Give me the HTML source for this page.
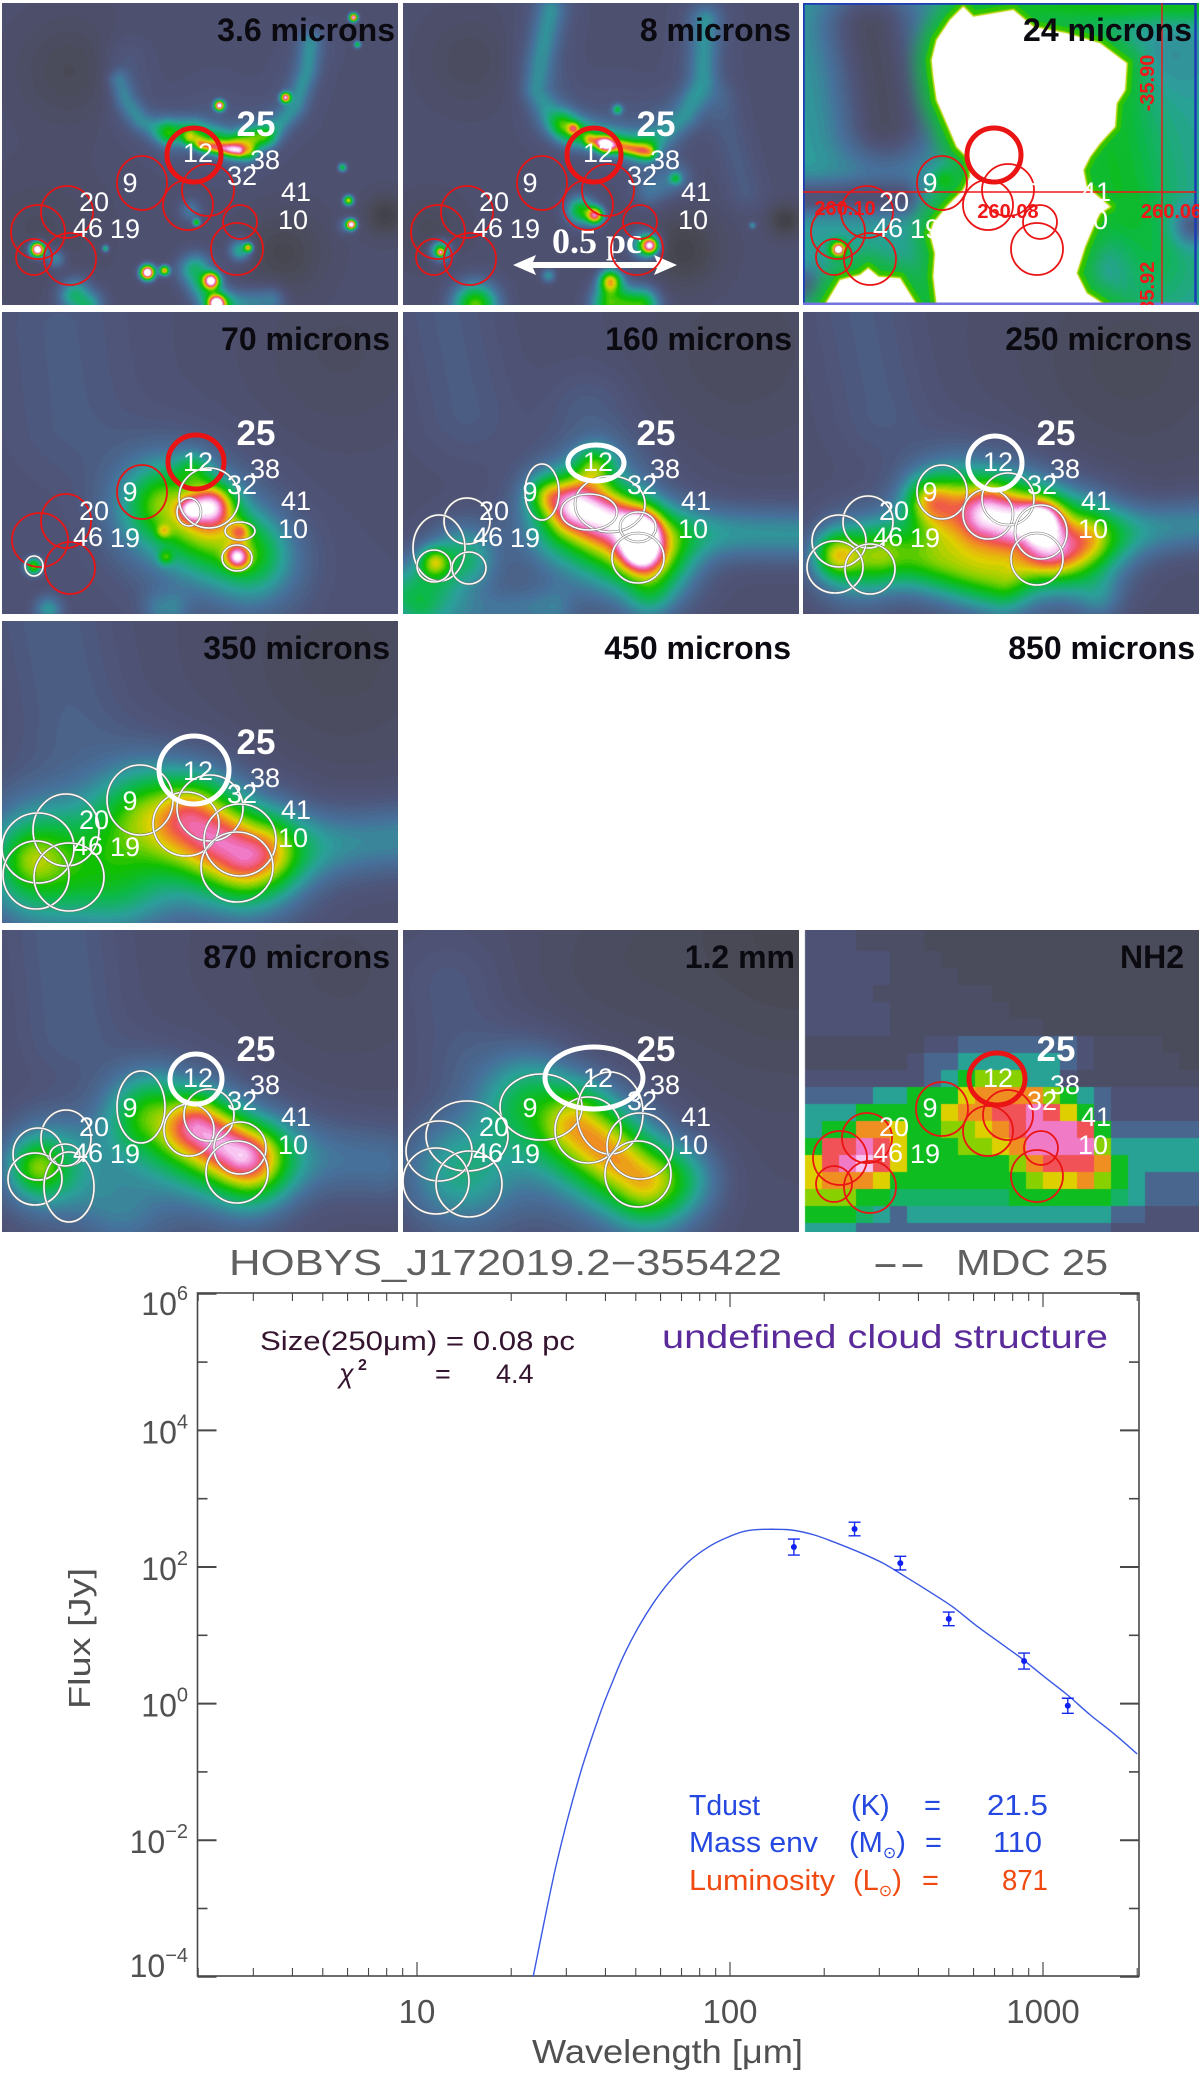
<!DOCTYPE html>
<html lang="en">
<head>
<meta charset="utf-8">
<title>HOBYS MDC 25 multi-wavelength panels and SED</title>
<style>
html,body{margin:0;padding:0;background:#fff;}
#page{position:relative;width:1200px;height:2087px;overflow:hidden;background:#fff;font-family:"Liberation Sans",sans-serif;}
.panel{position:absolute;width:396px;height:302px;overflow:hidden;}
.panel canvas{position:absolute;left:0;top:0;}
.panel svg{position:absolute;}
#sed{position:absolute;left:0;top:0;}
#sed text{font-family:"Liberation Sans","DejaVu Sans",sans-serif;}
</style>
</head>
<body>
<div id="page">
<svg id="sed" width="1200" height="2087" viewBox="0 0 1200 2087">
  <text x="229" y="1275" font-size="36" fill="#606060" textLength="553" lengthAdjust="spacingAndGlyphs">HOBYS_J172019.2−355422</text>
  <text x="872" y="1275" font-size="36" fill="#606060" textLength="54" lengthAdjust="spacingAndGlyphs">--</text>
  <text x="956" y="1275" font-size="36" fill="#606060" textLength="152" lengthAdjust="spacingAndGlyphs">MDC 25</text>
  <rect x="197.5" y="1293" width="941.5" height="683" fill="none" stroke="#484848" stroke-width="1.6"/>
  <text x="260" y="1350" font-size="27" fill="#34142f" textLength="315" lengthAdjust="spacingAndGlyphs">Size(250μm) = 0.08 pc</text>
  <text x="339" y="1383" font-size="27" fill="#34142f" font-style="italic">χ</text>
  <text x="358" y="1370" font-size="16" font-weight="bold" fill="#34142f">2</text>
  <text x="435" y="1383" font-size="27" fill="#34142f">=</text>
  <text x="496" y="1383" font-size="27" fill="#34142f">4.4</text>
  <text x="662" y="1348" font-size="33" fill="#5a2a9a" textLength="446" lengthAdjust="spacingAndGlyphs">undefined cloud structure</text>
  <text x="689" y="1815" font-size="29" fill="#2448e0" textLength="71" lengthAdjust="spacingAndGlyphs">Tdust</text>
  <text x="851" y="1815" font-size="29" fill="#2448e0">(K)</text>
  <text x="924" y="1815" font-size="29" fill="#2448e0">=</text>
  <text x="987" y="1815" font-size="29" fill="#2448e0" textLength="61" lengthAdjust="spacingAndGlyphs">21.5</text>
  <text x="689" y="1852" font-size="29" fill="#2448e0" textLength="129" lengthAdjust="spacingAndGlyphs">Mass env</text>
  <text x="849" y="1852" font-size="29" fill="#2448e0">(M<tspan font-size="16" dy="6" font-family="DejaVu Sans">⊙</tspan><tspan dy="-6">)</tspan></text>
  <text x="925" y="1852" font-size="29" fill="#2448e0">=</text>
  <text x="993" y="1852" font-size="29" fill="#2448e0" textLength="49" lengthAdjust="spacingAndGlyphs">110</text>
  <text x="689" y="1890" font-size="29" fill="#f04a12" textLength="146" lengthAdjust="spacingAndGlyphs">Luminosity</text>
  <text x="853" y="1890" font-size="29" fill="#f04a12">(L<tspan font-size="16" dy="6" font-family="DejaVu Sans">⊙</tspan><tspan dy="-6">)</tspan></text>
  <text x="922" y="1890" font-size="29" fill="#f04a12">=</text>
  <text x="1002" y="1890" font-size="29" fill="#f04a12" textLength="46" lengthAdjust="spacingAndGlyphs">871</text>
  <text x="532" y="2063" font-size="33" fill="#505050" textLength="271" lengthAdjust="spacingAndGlyphs">Wavelength [μm]</text>
  <text transform="translate(90,1709) rotate(-90)" font-size="31" fill="#505050" textLength="141" lengthAdjust="spacingAndGlyphs">Flux [Jy]</text>
</svg>
</div>
<script>
/* ---------- SED chart data ---------- */
const yMajorExponents = [6, 4, 2, 0, -2, -4];
const yMinorExponents = [5, 3, 1, -1, -3];
const xMajorTicks = [10, 100, 1000];
const xMinorTicks = [2,3,4,5,6,7,8,9,20,30,40,50,60,70,80,90,200,300,400,500,600,700,800,900,2000];
const curveWavelength = [23.5,27.8,33,38.5,41.8,45.5,50.9,57,63.8,73.5,84.6,97.3,112,129,157,186,220,261,309,366,434,514,608,721,853,1009,1197,1416,1679,2000];
const curveFlux = [0.0001,0.0042,0.085,0.72,1.9,4.8,13,30,59.6,118,192,267,336,356,348,294,222,162,113,70.6,43.5,26.2,14.2,8.05,4.6,2.48,1.34,0.68,0.367,0.183];
const pointWavelength = [160,250,350,500,870,1200];
const pointFlux = [196,360,114,17.4,4.2,0.93];
const pointErrorDex = [0.117,0.1,0.1,0.1,0.117,0.11];

const SVGNS = 'http://www.w3.org/2000/svg';
function xAxis(w){ return 417 + (Math.log10(w) - 1) * 313; }
function yAxis(f){ return 1567 + (2 - Math.log10(f)) * 68.3; }
function mk(tag, attrs, parent){
  const e = document.createElementNS(SVGNS, tag);
  for (const k in attrs) e.setAttribute(k, attrs[k]);
  parent.appendChild(e);
  return e;
}
const sed = document.getElementById('sed');
const axisColor = '#484848';

yMajorExponents.forEach(function(p){
  const y = yAxis(Math.pow(10, p));
  const t1 = mk('line', {x1:197.5,x2:216.5,y1:y,y2:y,stroke:axisColor,'stroke-width':2}, sed);
  
  
  const t2 = mk('line', {x1:1120,x2:1139,y1:y,y2:y,stroke:axisColor,'stroke-width':2}, sed);
  
  
  const base = Math.min(1977, Math.max(1315, y + 13));
  const lab = mk('text', {x:188,y:base,'font-size':32,fill:'#505050','text-anchor':'end'}, sed);
  
  
  lab.appendChild(document.createTextNode('10'));
  const sup = mk('tspan', {dy:-15,'font-size':20}, lab);
  
  
  sup.textContent = p < 0 ? '−' + Math.abs(p) : String(p);
});
yMinorExponents.forEach(function(p){
  const y = yAxis(Math.pow(10, p));
  const t1 = mk('line', {x1:197.5,x2:207.5,y1:y,y2:y,stroke:axisColor,'stroke-width':1.6}, sed);
  
  
  const t2 = mk('line', {x1:1129,x2:1139,y1:y,y2:y,stroke:axisColor,'stroke-width':1.6}, sed);
  
  
});
xMajorTicks.forEach(function(w){
  const x = xAxis(w);
  const t1 = mk('line', {x1:x,x2:x,y1:1976,y2:1962,stroke:axisColor,'stroke-width':1.2}, sed);
  
  
  const t2 = mk('line', {x1:x,x2:x,y1:1293,y2:1307,stroke:axisColor,'stroke-width':1.2}, sed);
  
  
  const lab = mk('text', {x:x,y:2023,'font-size':33,fill:'#505050','text-anchor':'middle'}, sed);
  
  
  lab.textContent = String(w);
});
xMinorTicks.forEach(function(w){
  const x = xAxis(w);
  const t1 = mk('line', {x1:x,x2:x,y1:1976,y2:1968,stroke:axisColor,'stroke-width':1.1}, sed);
  
  
  const t2 = mk('line', {x1:x,x2:x,y1:1293,y2:1301,stroke:axisColor,'stroke-width':1.1}, sed);
  
  
});
/* smooth (Catmull-Rom) path through the curve samples */
const curveXY = curveWavelength.map(function(w, i){ return [xAxis(w), yAxis(curveFlux[i])]; });
let dCurve = 'M' + curveXY[0][0].toFixed(1) + ' ' + curveXY[0][1].toFixed(1);
for (let i = 0; i < curveXY.length - 1; i++){
  const p0 = curveXY[Math.max(0, i-1)], p1 = curveXY[i], p2 = curveXY[i+1], p3 = curveXY[Math.min(curveXY.length-1, i+2)];
  const c1x = p1[0] + (p2[0]-p0[0])/6, c1y = p1[1] + (p2[1]-p0[1])/6;
  const c2x = p2[0] - (p3[0]-p1[0])/6, c2y = p2[1] - (p3[1]-p1[1])/6;
  dCurve += 'C' + c1x.toFixed(1) + ' ' + c1y.toFixed(1) + ' ' + c2x.toFixed(1) + ' ' + c2y.toFixed(1) + ' ' + p2[0].toFixed(1) + ' ' + p2[1].toFixed(1);
}
const curve = mk('path', {d:dCurve,fill:'none',stroke:'#3a58e4','stroke-width':1.4}, sed);


pointWavelength.forEach(function(w, i){
  const x = xAxis(w), y = yAxis(pointFlux[i]);
  const hi = yAxis(pointFlux[i] * Math.pow(10, pointErrorDex[i]));
  const lo = yAxis(pointFlux[i] / Math.pow(10, pointErrorDex[i]));
  const d = 'M' + x + ' ' + lo + 'L' + x + ' ' + hi + 'M' + (x-6) + ' ' + lo + 'L' + (x+6) + ' ' + lo + 'M' + (x-6) + ' ' + hi + 'L' + (x+6) + ' ' + hi;
  const bar = mk('path', {d:d,fill:'none',stroke:'#1428ee','stroke-width':1.4}, sed);
  
  
  const pt = mk('circle', {cx:x,cy:y,r:3,fill:'#1020f0'}, sed);
  
  
});

/* ---------- image panels ---------- */
const colorStops = [[0,'3a3a3e'],[.1,'4a4a58'],[.2,'4f5378'],[.3,'46709a'],[.4,'2aa09a'],[.5,'0cb84c'],[.58,'10c000'],[.65,'80d000'],[.72,'e0d000'],[.78,'f09020'],[.84,'f05050'],[.9,'f070c0'],[.95,'f8c0f0'],[1,'ffffff']];
const lut = [];
for (let i = 0; i <= 64; i++){
  const t = i / 64;
  let k = 0;
  while (k < colorStops.length - 2 && t > colorStops[k+1][0]) k++;
  const a = colorStops[k], b = colorStops[k+1];
  const f = Math.min(1, (t - a[0]) / (b[0] - a[0]));
  const rgb = [0,2,4].map(function(o){
    const u = parseInt(a[1].substr(o,2),16), v = parseInt(b[1].substr(o,2),16);
    return Math.round(u + (v-u)*f);
  });
  lut.push(rgb);
}
function thin(x,y,rx,ry){ return [x,y,rx,ry,0]; }
function thick(x,y,rx,ry){ return [x,y,rx,ry,1]; }
const redDefault = [thick(194,155,27,27),thin(142,183,25,27),thin(208,190,26,26),thin(188,205,25,25),thin(240,222,17,17),thin(237,249,26,26),thin(67,212,26,26),thin(38,232,27,27),thin(34,257,18,18),thin(70,259,26,26)];

const starField = [[3,.8,353,17],[2.5,.35,357,44],[3.5,.7,285,97],[3.5,.85,219,105],[3,.35,342,167],[3.5,.55,348,200],[3.5,.85,351,224],[5,1,37,249],[5,1,147,272],[3.5,.6,164,270],[2.5,.3,105,248],[2.5,.4,196,222],[3,.5,248,247],[5.5,.7,211,280],[5.5,.7,216,303]];

const panelDefs = [
 {id:'3-6-microns',title:'3.6 microns',col:0,row:0,right:395,base:.17,stroke:'red',ell:redDefault,feat:[
  [35,-.07,70,70],[28,-.09,283,253],[14,-.12,385,215],[40,-.04,40,230],[32,.05,215,125],
  [8,.13,118,80,125,100,140,120,165,135],[8,.14,240,145,270,135,295,105,307,70,310,40],[18,.06,125,60,130,110,170,140],[18,.06,240,150,290,110,310,50],
  [9,.25,170,130,195,130,230,142,262,135],[6,.3,190,138,205,145,248,152],[3.5,.18,200,145,238,151],
  [12,.3,195,270,215,305],[12,.3,75,295,85,305],[11,.18,230,305,270,300],[8,.28,240,250],[7,.2,55,258],[8,.15,190,210],[6,.12,345,225]
 ].concat(starField)},
 {id:'8-microns',title:'8 microns',col:1,row:0,right:391,base:.17,stroke:'red',ell:redDefault,feat:[
  [30,-.05,70,60],[25,-.11,283,250],[11,-.13,385,220],[22,-.06,30,230],[32,.05,215,125],
  [10,.13,150,10,140,60,135,90,150,115,170,135],[20,.07,150,10,140,60,150,115],[10,.13,305,20,302,80,285,115,255,140],[20,.07,305,20,300,90,260,135],[14,.06,320,100,345,190],[12,.14,250,190,275,178],
  [11,.27,165,125,190,135,240,148],[5.5,.42,205,145],[5,.32,190,140,248,152],[4,.28,173,128],[3.5,.3,217,109],
  [6,.62,195,215],[10,.38,180,210],[5.5,.55,250,245],[10,.38,245,245],[16,.46,75,305],[8,.5,210,280],[13,.44,210,303,240,305],
  [7,.45,40,250],[2.2,.4,40,252],[4,.22,275,178],[2.5,.2,352,225],[5,.2,148,275]
 ]},
 {id:'24-microns',title:'24 microns',col:2,row:0,right:392,base:.4,stroke:'red',ell:redDefault,mask:true,feat:[
  [33,-.27,70,30,78,70,85,120],[13,-.2,0,197,100,197],[12,-.15,5,285],[40,.14,300,100,330,250],[12,.15,170,5,396,5],[14,-.2,392,225],[22,-.1,310,265],[28,-.05,365,60],[9,.18,145,180],
  [6,.45,38,249],[2.2,.6,38,249]
 ]},
 {id:'70-microns',title:'70 microns',col:0,row:1,right:390,base:.18,stroke:'mixed',ell:[thick(196,153,28,27),thin(142,183,25,27),thin(66,212,25,27),thin(40,231,28,27),thin(70,259,25,26)],
  ellWhite:[[34,257,9,10],[189,203,12,14],[209,189,30,30],[240,222,15,9],[237,249,15,13]],feat:[
  [70,-.05,340,40],[50,.14,190,215],[15,.42,212,195],[8,.25,189,200],[12,.18,194,159],[7,.22,240,222],[8,.4,237,248],[5,.16,163,222],[5,.2,165,248],
  [26,.2,165,195,245,240],[36,.18,160,195,255,255],[6,.45,33,257],[10,.2,48,300],[13,.12,160,300,170,300],[45,.05,60,20,70,110]
 ]},
 {id:'160-microns',title:'160 microns',col:1,row:1,right:392,base:.17,stroke:'mixed',ell:[],
  ellThickWhite:[[196,154,28,18]],
  ellWhite:[[142,183,17,28],[67,212,23,23],[39,239,26,33],[34,257,17,16],[69,259,17,16],[210,195,35,28],[189,203,28,18],[238,218,18,15],[238,249,26,25]],feat:[
  [70,-.05,340,40],[55,.14,190,225],[19,.32,180,195,230,212],[14,.34,240,245],[13,.24,242,222],[30,.42,175,205,250,250],[24,.3,10,285,60,250],[10,.28,34,252],[20,.2,260,222,396,225],[14,.26,195,155],[14,.22,145,185],[35,.06,45,0,65,100],[30,.06,190,100,210,150],[16,.12,30,305,150,300],[16,.1,250,290]
 ]},
 {id:'250-microns',title:'250 microns',col:2,row:1,right:392,base:.17,stroke:'white',ell:[],
  ellThickWhite:[[195,154,27,27]],
  ellWhite:[[142,183,25,27],[68,213,25,26],[39,232,27,26],[35,258,28,26],[70,260,25,25],[188,205,25,25],[208,190,26,26],[241,223,26,27],[237,250,26,26]],feat:[
  [80,-.06,330,50],[55,.12,190,225],[22,.32,190,200,240,215,250,240],[13,.26,240,210],[34,.42,155,205,275,235],[17,.26,128,190],[16,.3,35,245],[30,.3,55,250],[22,.28,90,245,200,275],[20,.18,300,225,396,215],[35,.06,60,0,80,100],[16,.1,300,290]
 ]},
 {id:'350-microns',title:'350 microns',col:0,row:2,right:390,base:.17,stroke:'white',ell:[],
  ellThickWhite:[[194,152,35,34]],
  ellWhite:[[140,182,33,35],[66,212,33,36],[38,230,36,35],[36,257,33,34],[69,259,35,34],[186,206,33,32],[210,190,33,33],[240,222,36,36],[237,249,36,35]],feat:[
  [80,-.06,340,40],[60,.12,180,230],[28,.28,195,195,240,235],[38,.36,145,200,250,240],[20,.12,30,241],[45,.4,45,245],[32,.16,120,275],[26,.18,290,230,396,220],[42,.07,50,0,70,100]
 ]},
 {id:'450-microns',title:'450 microns',col:1,row:2,right:391,empty:true},
 {id:'850-microns',title:'850 microns',col:2,row:2,right:395,empty:true},
 {id:'870-microns',title:'870 microns',col:0,row:3,right:390,base:.17,stroke:'white',ell:[],dy:-2,
  ellThickWhite:[[196,152,26,25]],
  ellWhite:[[141,180,24,36],[66,211,25,28],[38,227,25,26],[35,252,27,26],[69,260,25,35],[65,228,15,11],[189,203,25,26],[209,188,25,26],[240,221,26,26],[237,245,31,31]],feat:[
  [80,-.04,340,40],[55,.12,190,225],[22,.3,201,196,240,224],[32,.38,150,190,250,240],[18,.2,35,240],[34,.3,50,240],[30,.12,120,285],[28,.13,280,225,380,235],[38,.07,60,0,70,100]
 ]},
 {id:'1-2-mm',title:'1.2 mm',col:1,row:3,right:395,base:.17,stroke:'white',ell:[],dy:-2,
  ellThickWhite:[[194,151,49,31]],
  ellWhite:[[141,180,41,33],[67,209,41,35],[39,224,33,30],[36,254,33,33],[69,257,33,33],[188,203,33,33],[210,186,33,41],[240,219,33,33],[238,247,33,33]],feat:[
  [110,-.09,396,0],[60,-.03,200,40],[55,.1,180,230],[26,.23,180,195,240,250],[36,.3,130,175,250,260],[40,.25,60,245],[25,.1,290,250],[35,.05,50,60,60,120]
 ]},
 {id:'nh2',title:'NH2',col:2,row:3,right:384,stroke:'red',dy:-2,grid:true,
  ell:[thick(197,152,28,26),thin(142,182,26,27),thin(208,188,25,25),thin(188,204,25,25),thin(241,221,17,17),thin(237,249,26,26),thin(67,211,25,25),thin(40,231,27,27),thin(34,257,18,18),thin(70,260,26,26)]}
];

const nh2Levels = {a:.115,b:.145,c:.18,d:.27,e:.4,f:.47,g:.55,h:.65,i:.72,j:.78,k:.84,l:.9,m:.96};
const nh2Grid = [
 'cccbbbbaaaaaaaaaaaaaaaaa',
 'cccbbbbaaaaaaaaaaaaaaaaa',
 'cccccbbbaaaaaaaaaaaaaaaa',
 'cccccbbbbaaaaaaaaaaaaaaa',
 'ccccbbbbbbbaaaaaaaaaaaaa',
 'cccccbbbbbbbaaaaaaaaaaaa',
 'cccccbbbbbbbbbaaaaaaaaaa',
 'bbbbbbbccdddddddcbbbbaaa',
 'bbbbbbcddeeeeeedcbbbbbaa',
 'cccccccdeghhheecbbbbbbbb',
 'ddddeeggg'+'ijjjjhged'+'cccccc',
 'eeegggggijjkklkigd'+'cccccc',
 'eggjjigghhijklllkgd'+'ddddd',
 'gkklkigggh'+'hijllllhe'+'eeeee',
 'iklmkigggggghjkkkjgeeeee',
 'ijjjiggggggggh'+'iijhged'+'ddd',
 'hhhgg'+'fffffff'+'ggggggfe'+'dddd',
 'gggfe'+'d'+'eeeeeeeeeeee'+'dd'+'cccc',
 'eeedddddddddddddddcccccc'
];

const colLeft = [2,403,803], colTile = [0,400,800];
const rowTop = [3,312,621,930], rowTile = [0,309,618,927];
const numberLabels = [['12',198,153],['38',265,160],['32',242,176],['41',296,192],['10',293,220],['20',94,202],['46',88,228],['19',125,229],['9',130,183]];
const whitePolyMain = [[490,20],[520,50],[640,30],[700,80],[800,100],[900,130],[980,190],[975,270],[950,310],[945,380],[900,430],[870,470],[850,510],[860,560],[930,620],[900,640],[880,680],[855,740],[830,820],[860,880],[915,915],[410,915],[400,830],[405,760],[390,700],[400,670],[440,620],[490,570],[510,530],[510,480],[470,440],[440,370],[410,300],[400,230],[395,180],[410,120],[450,60]];
const whitePolyLow = [[75,915],[120,840],[180,825],[205,805],[235,830],[300,835],[350,915]];

function drawField(ctx, def, ox, oy){
  const W = 396, H = 302, img = ctx.createImageData(W, H), data = img.data;
  const feats = def.feat;
  for (let py = 0; py < H; py++){
    const ty = py + oy;
    for (let px = 0; px < W; px++){
      const tx = px + ox;
      let t = def.base;
      for (let f = 0; f < feats.length; f++){
        const F = feats[f], s = F[0];
        let best = 1e12;
        if (F.length === 4){
          const dx = tx-F[2], dy = ty-F[3];
          best = dx*dx + dy*dy;
        } else {
          for (let k = 2; k + 3 < F.length; k += 2){
            const ax = F[k], ay = F[k+1], bx = F[k+2], by = F[k+3];
            const vx = bx-ax, vy = by-ay;
            let u = ((tx-ax)*vx + (ty-ay)*vy) / (vx*vx + vy*vy);
            u = u < 0 ? 0 : (u > 1 ? 1 : u);
            const dx = tx-ax-u*vx, dy = ty-ay-u*vy;
            const d = dx*dx + dy*dy;
            if (d < best) best = d;
          }
        }
        if (best < 16*s*s) t += F[1] * Math.exp(-best / (2*s*s));
      }
      t = t < 0 ? 0 : (t > 1 ? 1 : t);
      const c = lut[Math.round(t*64)], i = (py*W + px)*4;
      data[i] = c[0]; data[i+1] = c[1]; data[i+2] = c[2]; data[i+3] = 255;
    }
  }
  ctx.putImageData(img, 0, 0);
}
function polyPath(ctx, pts, ox, oy){
  ctx.beginPath();
  pts.forEach(function(p, i){
    const x = p[0]/3 - ox, y = p[1]/3 - oy;
    if (i) ctx.lineTo(x, y); else ctx.moveTo(x, y);
  });
  ctx.closePath();
}
function drawMask(ctx, ox, oy){
  [whitePolyMain, whitePolyLow].forEach(function(poly){
    ctx.save();
    ctx.filter = 'blur(9px)';
    polyPath(ctx, poly, ox, oy);
    ctx.strokeStyle = '#10bb30';
    ctx.lineWidth = 30;
    ctx.stroke();
    ctx.restore();
  });
  [whitePolyMain, whitePolyLow].forEach(function(poly){
    polyPath(ctx, poly, ox, oy);
    ctx.lineJoin = 'round';
    ctx.strokeStyle = '#30c400';
    ctx.lineWidth = 12;
    ctx.stroke();
    ctx.strokeStyle = '#b8d400';
    ctx.lineWidth = 3;
    ctx.stroke();
    ctx.fillStyle = '#ffffff';
    ctx.fill();
  });
}
function drawGrid(ctx, ox, oy){
  const cell = 51/3;
  nh2Grid.forEach(function(rowStr, r){
    for (let c = 0; c < rowStr.length; c++){
      const t = nh2Levels[rowStr[c]];
      const rgb = lut[Math.round(t*64)];
      ctx.fillStyle = 'rgb(' + rgb.join(',') + ')';
      ctx.fillRect(Math.floor(2 + c*cell - ox + 3), Math.floor(3 + (14 + 51*(r-1))/3 - oy + 3 - 3), Math.ceil(cell), Math.ceil(cell));
    }
  });
}

const page = document.getElementById('page');
panelDefs.forEach(function(def){
  const ox = colLeft[def.col] - colTile[def.col];
  const oy = rowTop[def.row] - rowTile[def.row];
  const div = document.createElement('div');
  div.className = 'panel';
  div.style.left = colLeft[def.col] + 'px';
  div.style.top = rowTop[def.row] + 'px';
  
  
  page.appendChild(div);
  if (!def.empty){
    const cv = document.createElement('canvas');
    cv.width = 396;
    cv.height = 302;
    
    
    div.appendChild(cv);
    const ctx = cv.getContext('2d');
    if (def.grid) drawGrid(ctx, ox, oy);
    else drawField(ctx, def, ox, oy);
    if (def.mask) drawMask(ctx, ox, oy);
  }
  const svg = document.createElementNS(SVGNS, 'svg');
  svg.setAttribute('width', 400);
  svg.setAttribute('height', 310);
  svg.style.left = (-ox) + 'px';
  svg.style.top = (-oy) + 'px';
  
  
  div.appendChild(svg);
  const dy = def.dy || 0;

  if (def.id === '8-microns'){
    const pc = mk('text', {x:152,y:253,'font-size':36,'font-weight':'bold','font-family':'Liberation Serif, serif',fill:'#fff'}, svg);
    
    
    pc.textContent = '0.5 pc';
    const arrow = mk('path', {d:'M113 265L136 255L133 262L257 262L254 255L277 265L254 275L257 268L133 268L136 275Z',fill:'#fff'}, svg);
    
    
  }
  if (def.mask){
    const fr = mk('path', {d:'M3.5 304L3.5 3.5L395.5 3.5L395.5 304',fill:'none',stroke:'#1c3cb4','stroke-width':2.5}, svg);
    
    
    const fb = mk('line', {x1:3,x2:396,y1:304,y2:304,stroke:'#7474e0','stroke-width':3}, svg);
    
    
    const h = mk('line', {x1:3,x2:396,y1:192,y2:192,stroke:'#f01818','stroke-width':1.6}, svg);
    
    
    const v = mk('line', {x1:362,x2:362,y1:3,y2:304,stroke:'#e02020','stroke-width':1.5}, svg);
    
    
    [['260.10',45,215],['260.08',208,218],['260.06',341,218]].forEach(function(a){
      const g = mk('text', {x:a[1],y:a[2],'font-size':20,'font-weight':'bold',fill:'#f01818','text-anchor':a[1]===341?'start':'middle'}, svg);
      
      
      g.textContent = a[0];
    });
    [['-35.90',354,83],['-35.92',354,290]].forEach(function(a){
      const g = mk('text', {transform:'translate(' + a[1] + ',' + a[2] + ') rotate(-90)','font-size':20,'font-weight':'bold',fill:'#f01818','text-anchor':'middle'}, svg);
      
      
      g.textContent = a[0];
    });
  }
  if (!def.empty){
    (def.ell || []).forEach(function(E){
      const c = mk('ellipse', {cx:E[0],cy:E[1],rx:E[2],ry:E[3],fill:'none',stroke:'#ea1414','stroke-width':E[4] ? 5 : 1.8}, svg);
      
      
    });
    (def.ellWhite || []).forEach(function(E){
      const under = mk('ellipse', {cx:E[0],cy:E[1],rx:E[2],ry:E[3],fill:'none',stroke:'#707070','stroke-width':2.6}, svg);
      
      
      const over = mk('ellipse', {cx:E[0],cy:E[1],rx:E[2],ry:E[3],fill:'none',stroke:'#ffffff','stroke-width':1.6}, svg);
      
      
    });
    (def.ellThickWhite || []).forEach(function(E){
      const c = mk('ellipse', {cx:E[0],cy:E[1],rx:E[2],ry:E[3],fill:'none',stroke:'#ffffff','stroke-width':5}, svg);
      
      
    });
  }
  numberLabels.forEach(function(L){
    const n = mk('text', {x:L[1],y:L[2]+9+dy,'font-size':27,fill:'#fff','text-anchor':'middle'}, svg);
    
    
    n.textContent = L[0];
  });
  if (!def.empty){
    const big = mk('text', {x:256,y:136+dy,'font-size':35,'font-weight':'bold',fill:'#fff','text-anchor':'middle'}, svg);
    
    
    big.textContent = '25';
  }
  const tt = mk('text', {x:def.right,y:41,'font-size':32,'font-weight':'bold',fill:'#0a0a10','text-anchor':'end'}, svg);
  
  
  tt.textContent = def.title;
});
</script>
</body>
</html>
